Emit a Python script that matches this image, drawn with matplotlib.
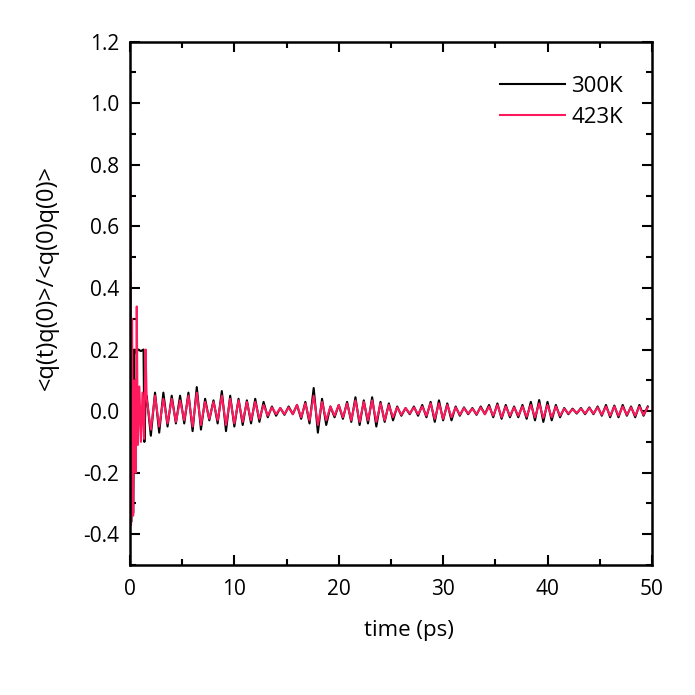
import numpy as np
import matplotlib.pyplot as plt
from matplotlib.ticker import MultipleLocator

# DATA

# first ~1.6 ps, where the correlation drops from 1 and rings strongly
t_early_300 = [0.0, 0.12, 0.22, 0.32, 0.42, 0.55, 0.8, 1.05, 1.3, 1.38, 1.5]
q_early_300 = [1.0, -0.36, 0.2, -0.33, 0.2, 0.19, 0.2, 0.195, 0.2, -0.1, 0.04]
t_early_423 = [0.0, 0.1, 0.2, 0.3, 0.42, 0.55, 0.65, 0.75, 0.9, 1.05, 1.2, 1.35, 1.5]
q_early_423 = [1.0, -0.37, 0.3, -0.34, 0.1, -0.2, 0.34, -0.11, 0.08, -0.1, 0.06, -0.09, 0.2]

# after that: peak / trough pairs every 0.8 ps, starting at 1.6 ps
tail_start = 1.6
tail_step = 0.4
peaks_300 = [0.05, 0.06, 0.06, 0.05, 0.05, 0.06, 0.078, 0.04, 0.035, 0.065,
             0.05, 0.04, 0.035, 0.04, 0.03, 0.015, 0.01, 0.015, 0.02, 0.03,
             0.075, 0.04, 0.015, 0.02, 0.03, 0.045, 0.035, 0.045, 0.03, 0.025,
             0.015, 0.01, 0.015, 0.02, 0.03, 0.035, 0.025, 0.015, 0.012, 0.01,
             0.015, 0.02, 0.025, 0.02, 0.015, 0.02, 0.03, 0.036, 0.03, 0.02,
             0.01, 0.008, 0.01, 0.012, 0.015, 0.02, 0.018, 0.02, 0.015, 0.02,
             0.015]
troughs_300 = [-0.08, -0.07, -0.05, -0.04, -0.04, -0.065, -0.06, -0.03, -0.04, -0.065,
               -0.05, -0.045, -0.04, -0.035, -0.02, -0.015, -0.012, -0.01, -0.025, -0.04,
               -0.07, -0.045, -0.02, -0.025, -0.035, -0.045, -0.04, -0.05, -0.035, -0.03,
               -0.015, -0.01, -0.015, -0.02, -0.035, -0.03, -0.03, -0.015, -0.01, -0.012,
               -0.01, -0.02, -0.025, -0.02, -0.02, -0.025, -0.03, -0.035, -0.03, -0.02,
               -0.01, -0.008, -0.01, -0.01, -0.015, -0.02, -0.02, -0.015, -0.02, -0.015,
               -0.01]
peaks_423 = [0.04, 0.05, 0.04, 0.04, 0.035, 0.05, 0.06, 0.03, 0.03, 0.05,
             0.04, 0.035, 0.03, 0.03, 0.02, 0.012, 0.01, 0.012, 0.02, 0.025,
             0.05, 0.03, 0.015, 0.02, 0.025, 0.035, 0.03, 0.035, 0.025, 0.02,
             0.012, 0.01, 0.012, 0.015, 0.025, 0.025, 0.02, 0.012, 0.01, 0.008,
             0.012, 0.015, 0.02, 0.015, 0.012, 0.015, 0.02, 0.025, 0.02, 0.015,
             0.008, 0.006, 0.008, 0.01, 0.012, 0.015, 0.015, 0.015, 0.012, 0.015,
             0.012]
troughs_423 = [-0.06, -0.05, -0.04, -0.035, -0.03, -0.05, -0.045, -0.025, -0.03, -0.045,
               -0.04, -0.035, -0.03, -0.025, -0.015, -0.01, -0.01, -0.01, -0.02, -0.03,
               -0.045, -0.03, -0.015, -0.02, -0.03, -0.035, -0.03, -0.035, -0.03, -0.02,
               -0.012, -0.008, -0.01, -0.015, -0.025, -0.025, -0.02, -0.012, -0.008, -0.01,
               -0.01, -0.015, -0.02, -0.015, -0.015, -0.018, -0.02, -0.022, -0.02, -0.015,
               -0.008, -0.006, -0.008, -0.008, -0.012, -0.015, -0.015, -0.012, -0.015, -0.012,
               -0.01]


def build_series(t_early, q_early, peaks, troughs):
    # interleave peaks and troughs on the tail time grid
    tail_q = []
    for p, tr in zip(peaks, troughs):
        tail_q.append(p)
        tail_q.append(tr)
    tail_t = tail_start + tail_step * np.arange(len(tail_q))
    t = np.concatenate([t_early, tail_t])
    q = np.concatenate([q_early, tail_q])
    keep = t <= 50
    return t[keep], q[keep]


t300, q300 = build_series(t_early_300, q_early_300, peaks_300, troughs_300)
t423, q423 = build_series(t_early_423, q_early_423, peaks_423, troughs_423)

# PLOT

plt.rcParams['font.family'] = ['Open Sans', 'DejaVu Sans']

fig = plt.figure(figsize=(6.95, 6.95), dpi=100)
ax = fig.add_axes([0.187, 0.187, 0.751, 0.753])

ax.plot(t300, q300, color='black', lw=1.5, label='300K')
ax.plot(t423, q423, color='#ff1a5e', lw=1.5, label='423K')

ax.set_xlim(0, 50)
ax.set_ylim(-0.5, 1.2)
ax.xaxis.set_major_locator(MultipleLocator(10))
ax.xaxis.set_minor_locator(MultipleLocator(5))
ax.yaxis.set_minor_locator(MultipleLocator(0.1))
ax.set_yticks(np.arange(-0.4, 1.21, 0.2))
ax.set_yticklabels(['%.1f' % v for v in np.arange(-0.4, 1.21, 0.2)])

ax.tick_params(which='both', direction='in', top=True, right=True,
               width=1.5, labelsize=15, pad=8)
ax.tick_params(axis='x', pad=10)
ax.tick_params(which='major', length=7)
ax.tick_params(which='minor', length=4)
for s in ax.spines.values():
    s.set_linewidth(1.8)

ax.set_xlabel('time (ps)', fontsize=16)
ax.xaxis.set_label_coords(0.535, -0.105)
ax.set_ylabel('<q(t)q(0)>/<q(0)q(0)>', fontsize=17)
ax.yaxis.set_label_coords(-0.137, 0.55)

ax.legend(loc='upper right', frameon=False, fontsize=16,
          handlelength=2.95, handletextpad=0.28, labelspacing=0.45,
          bbox_to_anchor=(0.983, 0.973))

fig.savefig('out.png', dpi=100)
